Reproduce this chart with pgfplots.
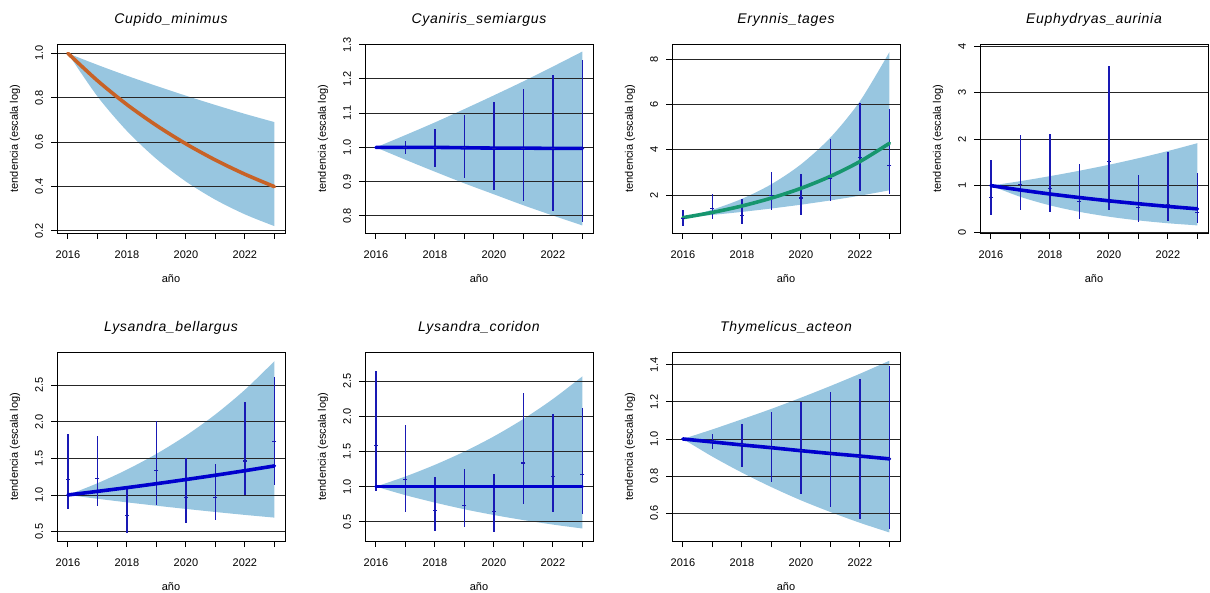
\documentclass[border=0pt]{standalone}
\usepackage{fontspec}
\setmainfont{Liberation Sans}
\usepackage{pgfplots}
\usepackage{pgfplotstable}
\pgfplotsset{compat=1.18}
\usepgfplotslibrary{fillbetween}
\definecolor{band}{RGB}{152,198,224}
\definecolor{trendblue}{RGB}{0,0,205}
\definecolor{errblue}{RGB}{25,25,180}
\definecolor{trendorange}{RGB}{200,98,38}
\definecolor{trendgreen}{RGB}{22,150,110}

% band (lo, hi) and trend (t)
\pgfplotstableread{
x lo hi t
2016 1.0 1.0 1.0
2017 0.806 0.948 0.877
2018 0.650 0.899 0.769
2019 0.524 0.853 0.675
2020 0.422 0.809 0.592
2021 0.340 0.767 0.519
2022 0.274 0.727 0.455
2023 0.221 0.690 0.399
}\bandA
\pgfplotstableread{
x lo hi t
2016 1.0 1.0 1.0
2017 0.964 1.036 1.0
2018 0.929 1.073 1.0
2019 0.895 1.112 0.999
2020 0.863 1.152 0.998
2021 0.831 1.193 0.998
2022 0.801 1.236 0.997
2023 0.772 1.280 0.997
}\bandB
\pgfplotstableread{
x y lo hi
2017 1.0 0.9805 1.0175
2018 1.0 0.944 1.055
2019 1.0 0.910 1.094
2020 0.998 0.876 1.134
2021 0.998 0.844 1.172
2022 0.997 0.815 1.212
2023 0.997 0.783 1.255
}\errB
\pgfplotstableread{
x lo hi t
2016 1.0 1.0 1.0
2017 1.120 1.354 1.231
2018 1.254 1.833 1.516
2019 1.405 2.481 1.867
2020 1.573 3.358 2.298
2021 1.762 4.546 2.830
2022 1.973 6.154 3.484
2023 2.21 8.33 4.29
}\bandC
\pgfplotstableread{
x y lo hi
2016 0.98 0.61 1.32
2017 1.41 0.95 2.06
2018 1.11 0.72 1.84
2019 1.97 1.32 3.02
2020 1.87 1.13 2.93
2021 2.75 1.72 4.47
2022 3.68 2.19 6.06
2023 3.29 2.04 5.83
}\errC
\pgfplotstableread{
x lo hi t
2016 1.0 1.0 1.0
2017 0.758 1.097 0.906
2018 0.575 1.204 0.820
2019 0.436 1.321 0.743
2020 0.331 1.449 0.673
2021 0.251 1.590 0.610
2022 0.190 1.745 0.552
2023 0.144 1.914 0.500
}\bandD
\pgfplotstableread{
x y lo hi
2016 0.75 0.37 1.56
2017 1.03 0.48 2.10
2018 0.94 0.43 2.12
2019 0.655 0.28 1.46
2020 1.51 0.48 3.58
2021 0.52 0.21 1.23
2022 0.59 0.23 1.73
2023 0.43 0.195 1.27
}\errD
\pgfplotstableread{
x lo hi t
2016 1.0 1.0 1.0
2017 0.948 1.160 1.049
2018 0.899 1.346 1.100
2019 0.853 1.562 1.154
2020 0.809 1.812 1.211
2021 0.767 2.102 1.270
2022 0.727 2.439 1.332
2023 0.690 2.830 1.397
}\bandE
\pgfplotstableread{
x y lo hi
2016 1.21 0.81 1.83
2017 1.22 0.845 1.80
2018 0.713 0.485 1.087
2019 1.34 0.868 2.016
2020 0.96 0.617 1.50
2021 0.96 0.654 1.43
2022 1.465 0.995 2.27
2023 1.73 1.14 2.62
}\errE
\pgfplotstableread{
x lo hi t
2016 1.0 1.0 1.0
2017 0.878 1.144 1.0
2018 0.772 1.310 1.0
2019 0.677 1.499 1.0
2020 0.595 1.715 1.0
2021 0.523 1.963 1.0
2022 0.459 2.247 1.0
2023 0.403 2.570 1.0
}\bandF
\pgfplotstableread{
x y lo hi
2016 1.58 0.934 2.64
2017 1.10 0.64 1.88
2018 0.66 0.365 1.14
2019 0.735 0.427 1.256
2020 0.65 0.355 1.185
2021 1.336 0.758 2.33
2022 1.147 0.64 2.04
2023 1.17 0.607 2.12
}\errF
\pgfplotstableread{
x lo hi t
2016 1.0 1.0 1.0
2017 0.905 1.0515 0.984
2018 0.819 1.106 0.968
2019 0.741 1.162 0.953
2020 0.670 1.222 0.937
2021 0.607 1.285 0.922
2022 0.549 1.351 0.908
2023 0.497 1.421 0.893
}\bandG
\pgfplotstableread{
x y lo hi
2017 0.984 0.946 1.027
2018 0.968 0.851 1.08
2019 0.953 0.771 1.147
2020 0.937 0.703 1.197
2021 0.922 0.633 1.254
2022 0.908 0.570 1.322
2023 0.893 0.515 1.392
}\errG

\pgfplotsset{
  rpanel/.style={
    scale only axis, width=228pt, height=189pt,
    xmin=2015.63, xmax=2023.36,
    xtick={2016,2017,2018,2019,2020,2021,2022,2023},
    xticklabels={2016,,2018,,2020,,2022,},
    tick align=outside, xtick pos=left, ytick pos=left,
    major tick length=6pt,
    every tick/.style={black, line width=0.9pt},
    axis line style={black, line width=0.9pt},
    ymajorgrids, grid style={black!85, line width=0.9pt},
    set layers,
    tick label style={font=\fontsize{11}{13}\selectfont},
    label style={font=\fontsize{11}{13}\selectfont},
    xticklabel style={anchor=center, yshift=-16pt},
    yticklabel style={anchor=center, xshift=-12pt, rotate=90},
    xlabel={año}, ylabel={tendencia (escala log)},
    xlabel style={at={(axis description cs:0.5,-0.243)}, anchor=center},
    ylabel style={at={(axis description cs:-0.184,0.5)}, anchor=center},
    title style={at={(axis description cs:0.5,1.095)}, anchor=center,
      font=\fontsize{14}{16}\selectfont\itshape\addfontfeatures{LetterSpace=5}},
  },
  bandplot/.style={draw=none, smooth, forget plot},
  errplot/.style={errblue, only marks, mark=-, mark size=2pt,
    mark options={line width=1.1pt},
    error bars/.cd, y dir=both, y explicit, error mark=none,
    error bar style={line width=1.4pt, errblue}},
  trendplot/.style={line width=3.6pt, line cap=round, smooth},
}

\begin{document}
\begin{tikzpicture}

% 1 Cupido_minimus
\begin{axis}[rpanel, at={(57pt,-44pt)}, anchor=north west,
  title={Cupido\_minimus}, ymin=0.19, ymax=1.042,
  ytick={0.2,0.4,0.6,0.8,1.0}, yticklabels={0.2,0.4,0.6,0.8,1.0}]
\addplot[bandplot, name path=U] table[x=x,y=hi]{\bandA};
\addplot[bandplot, name path=L] table[x=x,y=lo]{\bandA};
\addplot[band, draw=none] fill between[of=U and L, on layer=axis background];
\addplot[trendplot, trendorange] table[x=x,y=t]{\bandA};
\end{axis}

% 2 Cyaniris_semiargus
\begin{axis}[rpanel, at={(365pt,-44pt)}, anchor=north west,
  title={Cyaniris\_semiargus}, ymin=0.75, ymax=1.302,
  ytick={0.8,0.9,1.0,1.1,1.2,1.3}, yticklabels={0.8,0.9,1.0,1.1,1.2,1.3}]
\addplot[bandplot, name path=U] table[x=x,y=hi]{\bandB};
\addplot[bandplot, name path=L] table[x=x,y=lo]{\bandB};
\addplot[band, draw=none] fill between[of=U and L, on layer=axis background];
\addplot[errplot] table[x=x,y=y,y error plus expr=\thisrow{hi}-\thisrow{y},y error minus expr=\thisrow{y}-\thisrow{lo}]{\errB};
\addplot[trendplot, trendblue] table[x=x,y=t]{\bandB};
\end{axis}

% 3 Erynnis_tages
\begin{axis}[rpanel, at={(672pt,-44pt)}, anchor=north west,
  title={Erynnis\_tages}, ymin=0.32, ymax=8.69,
  ytick={2,4,6,8}, yticklabels={2,4,6,8}]
\addplot[bandplot, name path=U] table[x=x,y=hi]{\bandC};
\addplot[bandplot, name path=L] table[x=x,y=lo]{\bandC};
\addplot[band, draw=none] fill between[of=U and L, on layer=axis background];
\addplot[errplot] table[x=x,y=y,y error plus expr=\thisrow{hi}-\thisrow{y},y error minus expr=\thisrow{y}-\thisrow{lo}]{\errC};
\addplot[trendplot, trendgreen] table[x=x,y=t]{\bandC};
\end{axis}

% 4 Euphydryas_aurinia
\begin{axis}[rpanel, at={(980pt,-44pt)}, anchor=north west,
  title={Euphydryas\_aurinia}, ymin=-0.02, ymax=4.05,
  ytick={0,1,2,3,4}, yticklabels={0,1,2,3,4}]
\addplot[bandplot, name path=U] table[x=x,y=hi]{\bandD};
\addplot[bandplot, name path=L] table[x=x,y=lo]{\bandD};
\addplot[band, draw=none] fill between[of=U and L, on layer=axis background];
\addplot[errplot] table[x=x,y=y,y error plus expr=\thisrow{hi}-\thisrow{y},y error minus expr=\thisrow{y}-\thisrow{lo}]{\errD};
\addplot[trendplot, trendblue] table[x=x,y=t]{\bandD};
\end{axis}

% 5 Lysandra_bellargus
\begin{axis}[rpanel, at={(57pt,-352pt)}, anchor=north west,
  title={Lysandra\_bellargus}, ymin=0.37, ymax=2.956,
  ytick={0.5,1.0,1.5,2.0,2.5}, yticklabels={0.5,1.0,1.5,2.0,2.5}]
\addplot[bandplot, name path=U] table[x=x,y=hi]{\bandE};
\addplot[bandplot, name path=L] table[x=x,y=lo]{\bandE};
\addplot[band, draw=none] fill between[of=U and L, on layer=axis background];
\addplot[errplot] table[x=x,y=y,y error plus expr=\thisrow{hi}-\thisrow{y},y error minus expr=\thisrow{y}-\thisrow{lo}]{\errE};
\addplot[trendplot, trendblue] table[x=x,y=t]{\bandE};
\end{axis}

% 6 Lysandra_coridon
\begin{axis}[rpanel, at={(365pt,-352pt)}, anchor=north west,
  title={Lysandra\_coridon}, ymin=0.225, ymax=2.917,
  ytick={0.5,1.0,1.5,2.0,2.5}, yticklabels={0.5,1.0,1.5,2.0,2.5}]
\addplot[bandplot, name path=U] table[x=x,y=hi]{\bandF};
\addplot[bandplot, name path=L] table[x=x,y=lo]{\bandF};
\addplot[band, draw=none] fill between[of=U and L, on layer=axis background];
\addplot[errplot] table[x=x,y=y,y error plus expr=\thisrow{hi}-\thisrow{y},y error minus expr=\thisrow{y}-\thisrow{lo}]{\errF};
\addplot[trendplot, trendblue] table[x=x,y=t]{\bandF};
\end{axis}

% 7 Thymelicus_acteon
\begin{axis}[rpanel, at={(672pt,-352pt)}, anchor=north west,
  title={Thymelicus\_acteon}, ymin=0.451, ymax=1.468,
  ytick={0.6,0.8,1.0,1.2,1.4}, yticklabels={0.6,0.8,1.0,1.2,1.4}]
\addplot[bandplot, name path=U] table[x=x,y=hi]{\bandG};
\addplot[bandplot, name path=L] table[x=x,y=lo]{\bandG};
\addplot[band, draw=none] fill between[of=U and L, on layer=axis background];
\addplot[errplot] table[x=x,y=y,y error plus expr=\thisrow{hi}-\thisrow{y},y error minus expr=\thisrow{y}-\thisrow{lo}]{\errG};
\addplot[trendplot, trendblue] table[x=x,y=t]{\bandG};
\end{axis}

\pgfresetboundingbox
\useasboundingbox (0pt,0pt) rectangle (1210pt,-593pt);
\end{tikzpicture}
\end{document}
